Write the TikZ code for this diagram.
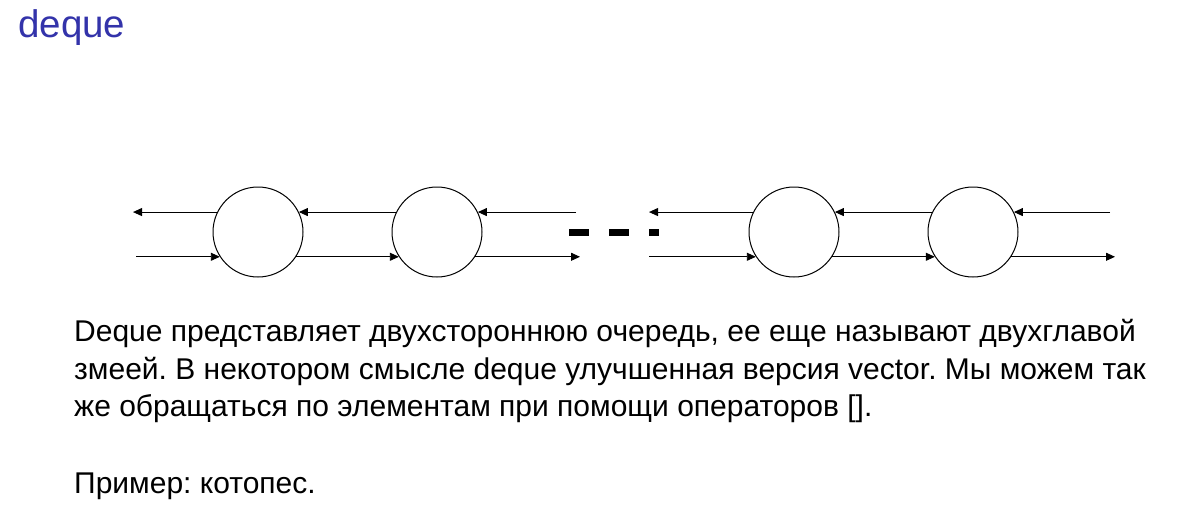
\documentclass[tikz,border=0pt]{standalone}
\usepackage{fontspec}
\setmainfont{Liberation Sans}
\usepackage{tikz}
\usetikzlibrary{positioning,arrows.meta}
\definecolor{titleblue}{RGB}{51,51,170}
\frenchspacing

\begin{document}
\begin{tikzpicture}[x=1pt,y=-1pt,
    link/.style={-{Triangle[length=9pt,width=8pt]}, line width=0.9pt},
    elem/.style={draw, circle, minimum size=90pt, inner sep=0pt, line width=1pt},
    body/.style={anchor=base west, inner sep=0pt, font=\fontsize{30}{36}\selectfont}
]

    \useasboundingbox (0,0) rectangle (1192,520);

    % title
    \node[anchor=base west,
        inner sep=0pt,
        text=titleblue,
        font=\fontsize{38.5}{46}\selectfont
    ] (title) at (18,37) {deque};

    % elements
    \node[elem] (e1) at (258,232) {};
    \node[elem, right=88pt of e1] (e2) {};
    \node[elem, right=266pt of e2] (e3) {};
    \node[elem, right=88pt of e3] (e4) {};

    % free ends
    \coordinate (headL) at (e1.154 -| 133,0);
    \coordinate (tailL) at (e1.213 -| 136,0);
    \coordinate (gapA) at (e2.26 -| 576,0);
    \coordinate (gapB) at (e2.327 -| 580,0);
    \coordinate (gapC) at (e3.154 -| 649,0);
    \coordinate (gapD) at (e3.213 -| 649,0);
    \coordinate (tailR) at (e4.26 -| 1110,0);
    \coordinate (headR) at (e4.327 -| 1115,0);

    % links
    \draw[link] (e1.154) -- (headL);
    \draw[link] (tailL) -- (e1.213);
    \draw[link] (e2.154) -- (e1.26);
    \draw[link] (e1.327) -- (e2.213);
    \draw[link] (gapA) -- (e2.26);
    \draw[link] (e2.327) -- (gapB);

    % gap
    \coordinate (dashL) at (569,232.5);
    \coordinate (dashR) at (659,232.5);
    \draw[line width=7pt, dash pattern=on 20pt off 20pt] (dashL) -- (dashR);

    \draw[link] (e3.154) -- (gapC);
    \draw[link] (gapD) -- (e3.213);
    \draw[link] (e4.154) -- (e3.26);
    \draw[link] (e3.327) -- (e4.213);
    \draw[link] (tailR) -- (e4.26);
    \draw[link] (e4.327) -- (headR);

    % text
    \node[body] (line1) at (74,341) {Deque представляет двухстороннюю очередь, ее еще называют двухглавой};
    \node[body] (line2) at (74,379) {змеей. В некотором смысле deque улучшенная версия vector. Мы можем так};
    \node[body] (line3) at (74,416) {же обращаться по элементам при помощи операторов [].};
    \node[body] (line4) at (74,493) {Пример: котопес.};

\end{tikzpicture}
\end{document}
